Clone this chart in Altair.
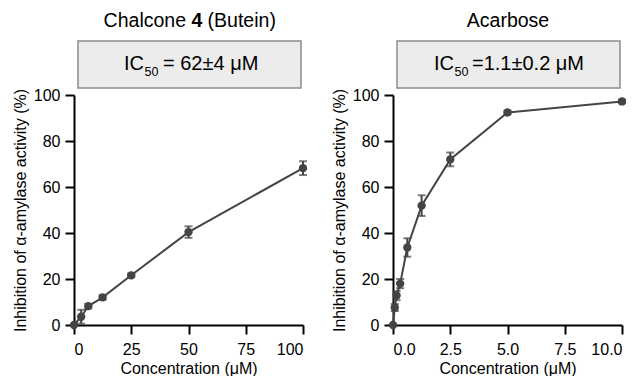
import altair as alt
import pandas as pd

# ---- data ----
chal_conc = [0, 3.125, 6.25, 12.5, 25, 50, 100]
chal_inh = [0, 3.6, 8.2, 12.0, 21.6, 40.4, 68.2]
chal_err = [0, 3.0, 1.0, 1.0, 0.8, 2.5, 3.0]

acar_conc = [0, 0.078, 0.156, 0.3125, 0.625, 1.25, 2.5, 5, 10]
acar_inh = [0, 7.6, 12.8, 18.0, 33.7, 51.9, 72.0, 92.4, 97.2]
acar_err = [0, 1.5, 2.0, 2.0, 4.0, 4.5, 3.0, 0.8, 0.8]

chal_xticks = [0, 25, 50, 75, 100]
acar_xticks = [0, 2.5, 5.0, 7.5, 10.0]
y_ticks = [0, 20, 40, 60, 80, 100]

chal_title = ["Chalcone", "4", "(Butein)"]
acar_title = ["Acarbose"]
chal_ic = ["IC", "50", "= 62±4 μM"]
acar_ic = ["IC", "50", "=1.1±0.2 μM"]

FONT = "Liberation Sans"
DARK = "#444444"
W, H = 229, 230


def txt(s, x, y, size, align="left", weight="normal"):
    return alt.Chart(pd.DataFrame({"t": [s]})).mark_text(
        align=align, baseline="alphabetic", fontSize=size, font=FONT,
        fontWeight=weight, color="black"
    ).encode(text="t:N", x=alt.value(x), y=alt.value(y))


def panel(conc, inh, err, xmax, xticks, xfmt, title_layers, ic, ic_pos):
    df = pd.DataFrame({
        "c": conc, "v": inh,
        "lo": [a - b for a, b in zip(inh, err)],
        "hi": [a + b for a, b in zip(inh, err)],
    })
    x = alt.X("c:Q", scale=alt.Scale(domain=[0, xmax], nice=False),
              axis=alt.Axis(values=xticks, format=xfmt, title="Concentration (μM)"))
    y = alt.Y("v:Q", scale=alt.Scale(domain=[0, 100], nice=False),
              axis=alt.Axis(values=y_ticks, title="Inhibition of α-amylase activity (%)"))
    base = alt.Chart(df)
    line = base.mark_line(color=DARK, strokeWidth=2).encode(x=x, y=y)
    pts = base.mark_circle(color=DARK, size=70, opacity=1).encode(x=x, y=y)
    eb = base.mark_errorbar(
        color=DARK, ticks={"size": 8, "thickness": 2}, rule={"strokeWidth": 2}
    ).encode(x="c:Q", y=alt.Y("lo:Q", title=""), y2="hi:Q")
    box = alt.Chart(pd.DataFrame({"k": [0]})).mark_rect(
        fill="#ececec", stroke="#8c8c8c", strokeWidth=1.5
    ).encode(x=alt.value(4), x2=alt.value(227), y=alt.value(-54), y2=alt.value(-7))
    xi, xs, xe = ic_pos
    ic_layers = [
        txt(ic[0], xi, -25.5, 20, align="right"),
        txt(ic[1], xs, -19.5, 12.5),
        txt(ic[2], xe, -25.5, 20),
    ]
    return alt.layer(box, *title_layers, *ic_layers, line, eb, pts).properties(
        width=W, height=H)


left = panel(
    chal_conc, chal_inh, chal_err, 100, chal_xticks, "d",
    [txt(chal_title[0], 112, -68, 19.5, align="right"),
     txt(chal_title[1], 122.8, -68, 19.5, align="center", weight="bold"),
     txt(chal_title[2], 133.6, -68, 19.5)],
    chal_ic, (70, 70.5, 89))

right = panel(
    acar_conc, acar_inh, acar_err, 10, acar_xticks, ".1f",
    [txt(acar_title[0], 115, -68, 19.5, align="center")],
    acar_ic, (61, 61.5, 79))

chart = alt.hconcat(left, right, spacing=23).properties(
    padding={"left": 12, "top": 11, "right": 0, "bottom": 0}
).configure_axis(
    domainColor="black", domainWidth=2, tickColor="black", tickWidth=2,
    tickSize=9, labelFontSize=16, titleFontSize=16, labelColor="black",
    titleColor="black", grid=False, titleFontWeight="normal",
    labelFont=FONT, titleFont=FONT, labelPadding=5, titlePadding=5
).configure_axisX(labelPadding=7, titlePadding=3).configure_view(stroke=None)

chart.save("out.html", embed_options={"renderer": "svg", "actions": False})
